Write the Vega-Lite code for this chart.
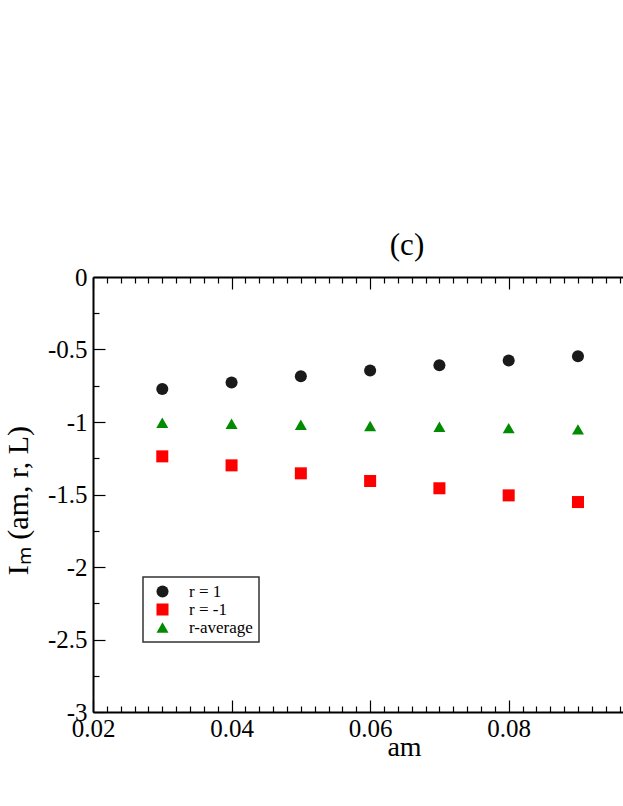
{
  "$schema": "https://vega.github.io/schema/vega-lite/v6.json",
  "width": 530,
  "height": 435,
  "autosize": {"type": "none"},
  "padding": {"left": 93, "top": 277, "right": 0, "bottom": 94},
  "background": "white",
  "title": {
    "text": "(c)",
    "font": "Liberation Serif",
    "fontSize": 31,
    "fontWeight": "normal",
    "color": "black",
    "anchor": "middle",
    "baseline": "alphabetic",
    "dx": 49,
    "offset": -21
  },
  "data": {
    "values": [
      {"am": 0.03, "value": -0.773, "series": "r = 1"},
      {"am": 0.04, "value": -0.727, "series": "r = 1"},
      {"am": 0.05, "value": -0.684, "series": "r = 1"},
      {"am": 0.06, "value": -0.645, "series": "r = 1"},
      {"am": 0.07, "value": -0.608, "series": "r = 1"},
      {"am": 0.08, "value": -0.576, "series": "r = 1"},
      {"am": 0.09, "value": -0.546, "series": "r = 1"},
      {"am": 0.03, "value": -1.237, "series": "r = -1"},
      {"am": 0.04, "value": -1.299, "series": "r = -1"},
      {"am": 0.05, "value": -1.354, "series": "r = -1"},
      {"am": 0.06, "value": -1.407, "series": "r = -1"},
      {"am": 0.07, "value": -1.457, "series": "r = -1"},
      {"am": 0.08, "value": -1.506, "series": "r = -1"},
      {"am": 0.09, "value": -1.552, "series": "r = -1"},
      {"am": 0.03, "value": -1.005, "series": "r-average"},
      {"am": 0.04, "value": -1.012, "series": "r-average"},
      {"am": 0.05, "value": -1.019, "series": "r-average"},
      {"am": 0.06, "value": -1.028, "series": "r-average"},
      {"am": 0.07, "value": -1.033, "series": "r-average"},
      {"am": 0.08, "value": -1.042, "series": "r-average"},
      {"am": 0.09, "value": -1.051, "series": "r-average"}
    ]
  },
  "layer": [
    {
      "mark": {"type": "point", "filled": true, "opacity": 1, "strokeWidth": 0},
      "encoding": {
        "x": {
          "field": "am",
          "type": "quantitative",
          "scale": {"domain": [0.02, 0.0965], "nice": false, "zero": false},
          "axis": {
            "orient": "bottom",
            "values": [0.02, 0.04, 0.06, 0.08],
            "labelExpr": "'' + datum.value",
            "labelFlush": false,
            "labelFont": "Liberation Serif",
            "labelFontSize": 25,
            "tickSize": -12,
            "labelPadding": 16,
            "title": "am",
            "titleX": 311,
            "titleY": 43,
            "titleAlign": "center",
            "titleBaseline": "alphabetic",
            "titleFontSize": 28
          }
        },
        "y": {
          "field": "value",
          "type": "quantitative",
          "scale": {"domain": [-3, 0], "nice": false, "zero": false},
          "axis": {
            "orient": "left",
            "values": [0, -0.5, -1, -1.5, -2, -2.5, -3],
            "labelExpr": "'' + datum.value",
            "labelFlush": false,
            "labelFont": "Liberation Serif",
            "labelFontSize": 25,
            "tickSize": -12,
            "labelPadding": 18,
            "title": "Iₘ (am, r, L)",
            "titleAngle": -90,
            "titleX": -66,
            "titleY": 223,
            "titleAlign": "center",
            "titleBaseline": "alphabetic",
            "titleFontSize": 30
          }
        },
        "color": {
          "field": "series",
          "type": "nominal",
          "scale": {"domain": ["r = 1", "r = -1", "r-average"], "range": ["#1a1a1a", "#ff0000", "#008b00"]},
          "legend": {"title": null}
        },
        "shape": {
          "field": "series",
          "type": "nominal",
          "scale": {"domain": ["r = 1", "r = -1", "r-average"], "range": ["circle", "square", "triangle-up"]},
          "legend": {"title": null}
        },
        "size": {
          "field": "series",
          "type": "nominal",
          "scale": {"domain": ["r = 1", "r = -1", "r-average"], "range": [145, 144, 200]},
          "legend": {"title": null}
        }
      }
    },
    {
      "mark": {"type": "point", "opacity": 0},
      "encoding": {
        "x": {
          "field": "am",
          "type": "quantitative",
          "axis": {
            "orient": "bottom",
            "values": [0.022, 0.024, 0.026, 0.028, 0.03, 0.032, 0.034, 0.036, 0.038, 0.042, 0.044, 0.046, 0.048, 0.05, 0.052, 0.054, 0.056, 0.058, 0.062, 0.064, 0.066, 0.068, 0.07, 0.072, 0.074, 0.076, 0.078, 0.082, 0.084, 0.086, 0.088, 0.09, 0.092, 0.094, 0.096],
            "tickSize": -6,
            "labels": false,
            "domain": false,
            "title": null
          }
        },
        "y": {
          "field": "value",
          "type": "quantitative",
          "axis": {
            "orient": "left",
            "values": [-0.25, -0.75, -1.25, -1.75, -2.25, -2.75],
            "tickSize": -6,
            "labels": false,
            "domain": false,
            "title": null
          }
        }
      }
    },
    {
      "mark": {"type": "point", "opacity": 0},
      "encoding": {
        "x": {
          "field": "am",
          "type": "quantitative",
          "axis": {
            "orient": "top",
            "values": [0.02, 0.04, 0.06, 0.08],
            "tickSize": -12,
            "labels": false,
            "title": null
          }
        },
        "y": {"field": "value", "type": "quantitative", "axis": null}
      }
    },
    {
      "mark": {"type": "point", "opacity": 0},
      "encoding": {
        "x": {
          "field": "am",
          "type": "quantitative",
          "axis": {
            "orient": "top",
            "values": [0.022, 0.024, 0.026, 0.028, 0.03, 0.032, 0.034, 0.036, 0.038, 0.042, 0.044, 0.046, 0.048, 0.05, 0.052, 0.054, 0.056, 0.058, 0.062, 0.064, 0.066, 0.068, 0.07, 0.072, 0.074, 0.076, 0.078, 0.082, 0.084, 0.086, 0.088, 0.09, 0.092, 0.094, 0.096],
            "tickSize": -6,
            "labels": false,
            "domain": false,
            "title": null
          }
        },
        "y": {"field": "value", "type": "quantitative", "axis": null}
      }
    }
  ],
  "resolve": {"axis": {"x": "independent", "y": "independent"}},
  "config": {
    "view": {"stroke": null},
    "axis": {
      "grid": false,
      "domainColor": "black",
      "domainWidth": 2,
      "tickColor": "black",
      "tickWidth": 1.2,
      "labelColor": "black",
      "labelFont": "Liberation Serif",
      "labelFontSize": 25,
      "titleColor": "black",
      "titleFont": "Liberation Serif",
      "titleFontWeight": "normal"
    },
    "legend": {
      "orient": "none",
      "legendX": 50,
      "legendY": 300,
      "fillColor": "white",
      "strokeColor": "#333333",
      "strokeWidth": 1.5,
      "padding": 6,
      "symbolOffset": 5,
      "labelOffset": 18,
      "labelFont": "Liberation Serif",
      "labelFontSize": 17,
      "labelColor": "black",
      "rowPadding": 0
    }
  }
}
